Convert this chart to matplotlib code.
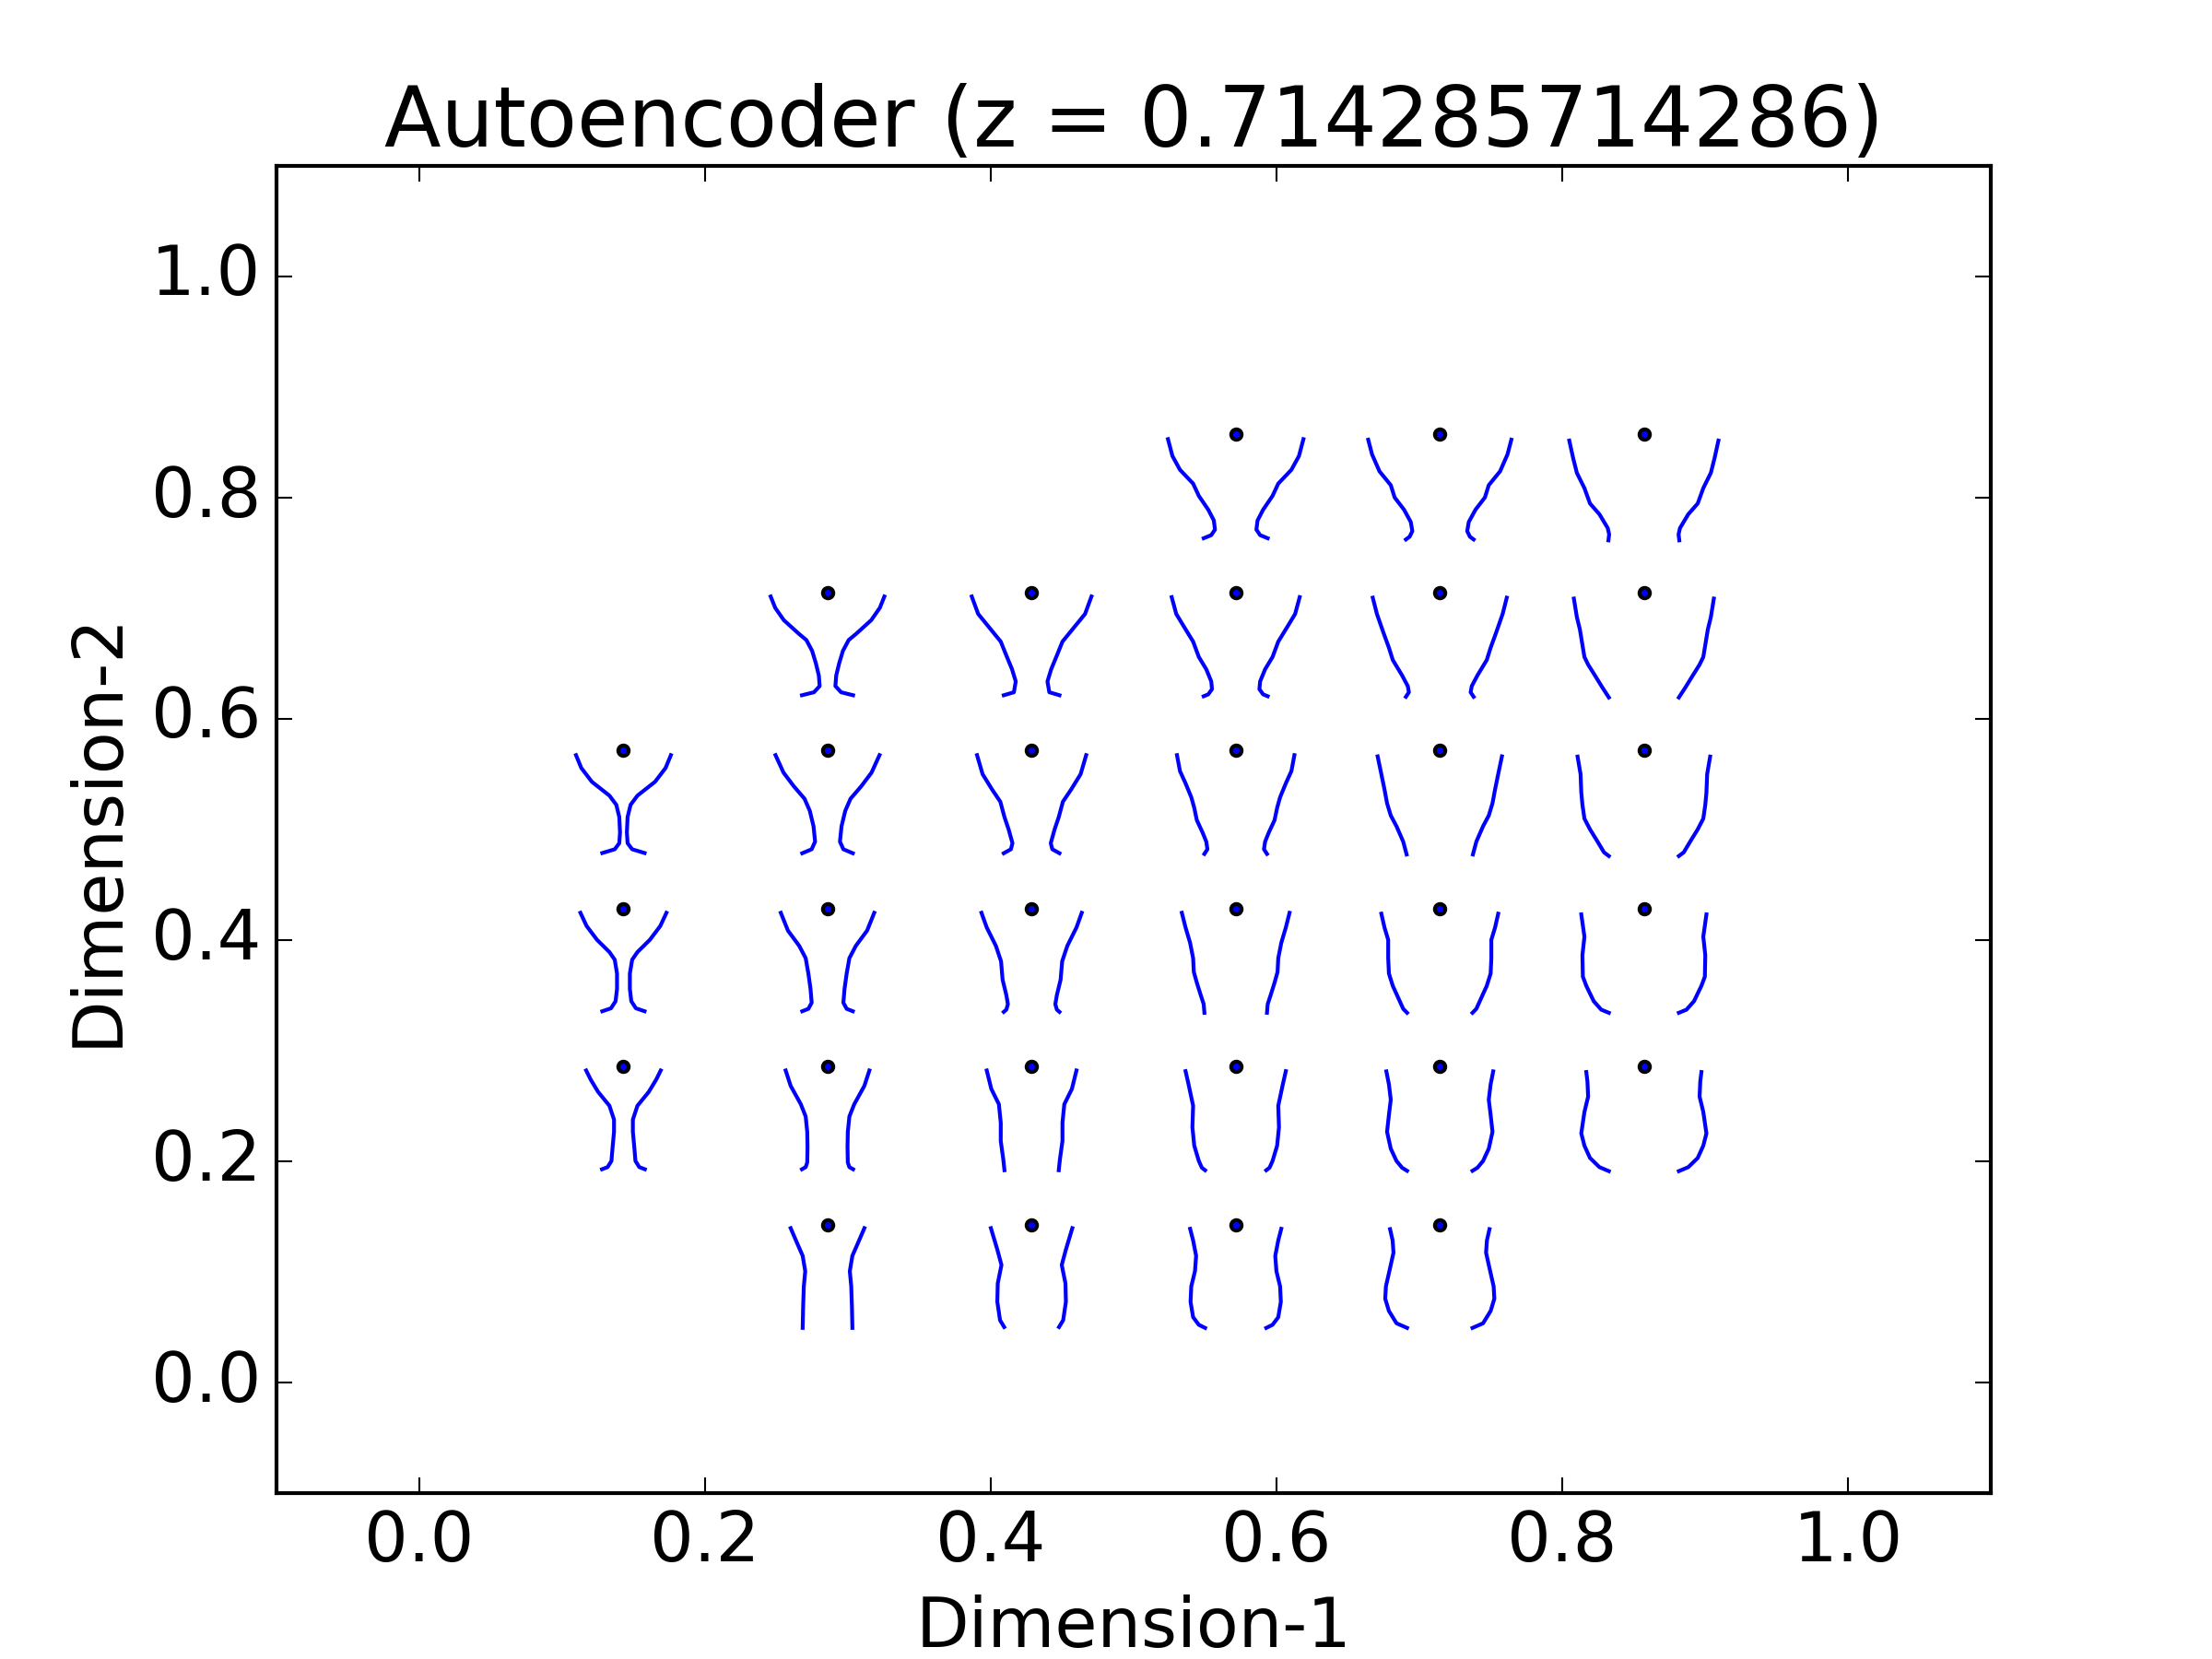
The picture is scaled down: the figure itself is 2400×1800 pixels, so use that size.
import numpy as np
import matplotlib
matplotlib.use('Agg')
import matplotlib.pyplot as plt

# ---- data ----
# dot positions on the latent grid, in steps of 1/7
dot_col = [4, 5, 6,
           2, 3, 4, 5, 6,
           1, 2, 3, 4, 5, 6,
           1, 2, 3, 4, 5, 6,
           1, 2, 3, 4, 5, 6,
           2, 3, 4, 5]
dot_row = [6, 6, 6,
           5, 5, 5, 5, 5,
           4, 4, 4, 4, 4, 4,
           3, 3, 3, 3, 3, 3,
           2, 2, 2, 2, 2, 2,
           1, 1, 1, 1]

# decoded profile, left side of each shape (right side is the mirror)
# offsets from the dot in thousandths of a data unit: dx sideways, dy downward
glyph_dx = [
    [-47.4, -44.3, -39.0, -29.8, -25.8, -19.2, -15.3, -14.5, -17.1, -22.4],
    [-50.1, -47.4, -42.2, -34.3, -31.6, -25.0, -20.3, -19.2, -21.1, -23.7],
    [-52.2, -49.6, -46.9, -41.6, -37.7, -31.1, -25.3, -24.3, -24.8],

    [-39.8, -36.6, -30.6, -20.0, -14.8, -10.8, -8.2, -6.1, -5.5, -9.5, -17.9],
    [-41.9, -37.4, -29.5, -21.6, -17.7, -13.7, -11.1, -12.4, -19.5],
    [-44.8, -41.6, -36.4, -29.8, -25.8, -20.6, -17.1, -16.6, -19.2, -22.4],
    [-46.9, -44.0, -39.5, -35.6, -32.9, -26.4, -22.4, -21.6, -23.7],
    [-49.0, -46.9, -44.8, -41.6, -39.0, -34.3, -29.0, -24.5],

    [-33.2, -29.5, -22.1, -9.8, -5.0, -2.9, -2.4, -2.9, -6.1, -14.8],
    [-36.4, -30.8, -23.5, -16.1, -12.4, -9.8, -8.7, -11.1, -17.7],
    [-38.2, -34.3, -27.7, -21.9, -19.0, -16.1, -13.4, -14.5, -19.5],
    [-41.1, -39.0, -35.1, -31.1, -29.0, -27.2, -23.2, -20.6, -19.8, -21.9],
    [-43.5, -40.9, -38.7, -36.9, -34.3, -30.3, -25.6, -23.2],
    [-46.4, -44.3, -43.8, -43.0, -41.6, -37.7, -32.4, -27.9, -24.5],

    [-30.1, -25.8, -18.5, -9.8, -6.1, -4.5, -4.5, -5.5, -8.7, -14.8],
    [-32.7, -27.7, -19.8, -15.3, -13.4, -11.9, -11.1, -13.4, -17.7],
    [-35.1, -31.4, -25.0, -21.4, -20.3, -17.7, -16.6, -17.7, -19.5],
    [-37.7, -35.1, -31.9, -29.8, -29.3, -27.2, -24.5, -22.4, -21.9],
    [-40.9, -38.7, -36.1, -36.1, -35.6, -32.9, -29.0, -25.6, -22.9],
    [-43.8, -41.6, -43.0, -42.7, -40.3, -35.1, -29.8, -24.5],

    [-26.1, -22.9, -17.7, -9.8, -6.6, -6.6, -7.6, -8.4, -11.1, -15.0],
    [-29.3, -25.8, -18.7, -15.3, -14.2, -14.0, -14.2, -15.3, -17.9],
    [-31.4, -28.2, -22.9, -21.6, -21.6, -19.8, -19.0],
    [-35.1, -33.0, -29.8, -30.3, -29.0, -25.8, -23.7, -21.4],
    [-37.4, -35.6, -34.3, -35.6, -36.9, -34.3, -30.3, -26.4, -22.9],
    [-40.3, -39.5, -39.0, -41.6, -43.8, -41.6, -37.7, -31.1, -24.5],

    [-25.8, -22.1, -17.4, -15.6, -16.6, -17.1, -17.4],
    [-28.5, -24.0, -21.1, -23.7, -24.0, -22.1, -19.2],
    [-31.9, -29.8, -27.7, -28.5, -31.1, -31.6, -29.8, -25.8, -21.4],
    [-34.8, -33.0, -32.4, -34.8, -37.7, -38.2, -35.6, -30.3, -22.9],
]
glyph_dy = [
    [4.2, 19.4, 31.9, 44.4, 55.5, 68.0, 77.7, 86.0, 91.0, 93.8],
    [4.7, 18.0, 33.3, 45.8, 56.9, 68.0, 79.1, 87.4, 92.4, 94.9],
    [5.5, 20.8, 34.7, 48.5, 62.4, 72.1, 84.6, 90.2, 95.7],

    [3.6, 13.9, 25.0, 37.4, 43.0, 52.7, 63.8, 74.9, 84.6, 90.2, 92.9],
    [3.6, 19.4, 31.9, 44.4, 56.9, 69.4, 80.4, 90.2, 92.9],
    [4.2, 19.4, 30.5, 44.4, 58.3, 69.4, 80.4, 87.4, 92.1, 93.8],
    [4.7, 19.4, 36.1, 49.9, 61.0, 74.9, 84.6, 90.2, 94.3],
    [5.5, 22.2, 33.3, 58.3, 65.2, 74.9, 86.0, 94.9],

    [4.2, 15.8, 28.3, 40.8, 49.1, 60.2, 74.1, 83.8, 89.3, 92.7],
    [4.2, 20.0, 32.5, 43.6, 54.6, 68.5, 82.4, 89.3, 92.9],
    [4.2, 21.4, 35.2, 46.3, 60.2, 71.3, 83.8, 89.3, 92.9],
    [4.2, 18.6, 29.7, 42.2, 51.9, 63.0, 74.1, 82.4, 89.3, 93.5],
    [5.3, 21.4, 35.2, 47.7, 58.8, 68.5, 82.4, 94.0],
    [5.5, 21.4, 38.0, 49.1, 61.6, 71.3, 82.4, 92.1, 95.4],

    [3.9, 15.8, 28.3, 39.4, 46.3, 58.8, 72.7, 83.8, 90.2, 92.9],
    [3.9, 20.0, 33.8, 44.9, 58.8, 72.7, 85.2, 90.7, 92.9],
    [3.9, 17.2, 33.8, 47.7, 64.4, 78.2, 86.5, 91.5, 93.5],
    [3.9, 17.2, 31.1, 44.9, 57.4, 67.1, 78.2, 86.5, 94.3],
    [4.7, 17.2, 28.3, 44.9, 58.8, 69.9, 81.0, 90.7, 94.3],
    [5.3, 25.5, 42.2, 61.6, 69.9, 83.8, 91.5, 94.3],

    [3.6, 11.9, 23.0, 35.5, 48.0, 59.1, 73.0, 85.4, 91.0, 92.9],
    [3.6, 17.5, 34.1, 45.2, 59.1, 73.0, 86.8, 91.0, 92.9],
    [3.6, 20.3, 34.1, 50.8, 67.4, 84.1, 93.8],
    [4.2, 16.1, 35.5, 54.9, 71.6, 85.4, 91.5, 93.8],
    [4.4, 16.1, 30.0, 43.8, 59.1, 74.3, 85.4, 91.5, 94.3],
    [5.0, 13.3, 27.2, 41.1, 60.5, 71.6, 82.7, 91.0, 94.6],

    [3.3, 14.4, 28.3, 42.2, 56.0, 75.5, 93.5],
    [3.3, 22.7, 36.6, 53.3, 69.9, 86.5, 92.7],
    [3.9, 14.4, 28.3, 42.2, 56.0, 69.9, 83.8, 90.7, 93.5],
    [4.2, 14.4, 25.5, 39.4, 56.0, 67.1, 78.2, 89.3, 93.5],
]

z_value = 0.714285714286

# ---- plot ----
plt.style.use('classic')
plt.rcParams['font.size'] = 18
plt.rcParams['font.family'] = ['DejaVu Sans']

fig, ax = plt.subplots(figsize=(8, 6), dpi=300)
fig.patch.set_facecolor('white')

for c, r, dx, dy in zip(dot_col, dot_row, glyph_dx, glyph_dy):
    x0 = c / 7.0
    y0 = r / 7.0
    dx = np.array(dx) / 1000.0
    dy = np.array(dy) / 1000.0
    ax.plot(x0 + dx, y0 - dy, color='b', lw=1.0, solid_joinstyle='round')
    ax.plot(x0 - dx, y0 - dy, color='b', lw=1.0, solid_joinstyle='round')

ax.plot(np.array(dot_col) / 7.0, np.array(dot_row) / 7.0, 'o', ls='none',
        markerfacecolor='b', markeredgecolor='k', markersize=2.7,
        markeredgewidth=1.0)

ax.set_xlim(-0.1, 1.1)
ax.set_ylim(-0.1, 1.1)
ax.set_xlabel('Dimension-1')
ax.set_ylabel('Dimension-2')
ax.set_title('Autoencoder (z = %s)' % z_value)

fig.savefig('out.png', dpi=300, facecolor='white')
